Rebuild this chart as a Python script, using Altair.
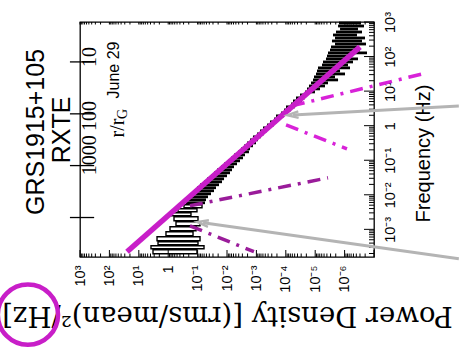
import altair as alt
import pandas as pd

# ---------------- data ----------------
# black PDS, narrow high-frequency bins: bin frequency (Hz), power upper / lower end
bin_freq = [935, 766, 628, 514, 421, 345, 282, 231, 190, 155,
            127, 104, 85.3, 69.8, 57.1, 46.9, 38.4, 31.4, 25.8, 21.1,
            17.3, 14.1, 11.6, 9.48, 7.76, 6.37, 5.21, 4.27, 3.50, 2.86,
            2.34, 1.92, 1.57, 1.29, 1.05, 0.865, 0.708, 0.579, 0.475, 0.389,
            0.318, 0.261, 0.214, 0.175, 0.143, 0.117, 0.0962, 0.0787, 0.0646, 0.0528,
            0.0433, 0.0354, 0.0290, 0.0238, 0.0195, 0.0160, 0.0131, 0.0107, 0.00875, 0.00718,
            0.00587]
bin_pow_hi = [1.55e-6, 1.67e-6, 1.43e-6, 1.96e-6, 2.48e-6, 2.12e-6, 2.69e-6, 2.12e-6, 2.90e-6, 3.14e-6,
              3.67e-6, 3.97e-6, 4.30e-6, 5.43e-6, 5.87e-6, 8.04e-6, 8.69e-6, 9.40e-6, 1.10e-5, 1.19e-5,
              1.39e-5, 1.63e-5, 1.90e-5, 2.22e-5, 3.29e-5, 4.50e-5, 5.69e-5, 6.65e-5, 9.84e-5, 1.15e-4,
              1.46e-4, 2.15e-4, 2.52e-4, 3.44e-4, 4.36e-4, 5.97e-4, 7.55e-4, 9.55e-4, 1.31e-3, 1.65e-3,
              2.09e-3, 2.64e-3, 3.34e-3, 4.23e-3, 5.78e-3, 7.31e-3, 9.25e-3, 1.26e-2, 1.60e-2, 2.19e-2,
              2.77e-2, 3.50e-2, 4.79e-2, 6.05e-2, 8.28e-2, 0.105, 0.132, 0.155, 0.196, 0.230,
              0.248]
bin_pow_lo = [2.77e-7, 2.19e-7, 3.50e-7, 2.56e-7, 3.78e-7, 2.02e-7, 2.56e-7, 1.87e-7, 3.78e-7, 2.99e-7,
              1.73e-7, 5.60e-7, 3.50e-7, 5.18e-7, 7.66e-7, 6.55e-7, 1.43e-6, 9.68e-7, 2.12e-6, 1.67e-6,
              3.67e-6, 4.64e-6, 6.87e-6, 1.02e-5, 1.90e-5, 2.22e-5, 2.81e-5, 4.16e-5, 4.86e-5, 6.65e-5,
              9.10e-5, 1.15e-4, 1.57e-4, 1.99e-4, 2.52e-4, 3.44e-4, 4.36e-4, 5.51e-4, 6.98e-4, 8.83e-4,
              1.03e-3, 1.31e-3, 1.65e-3, 1.79e-3, 2.44e-3, 2.86e-3, 3.61e-3, 4.57e-3, 5.78e-3, 6.76e-3,
              7.91e-3, 1.00e-2, 1.26e-2, 1.48e-2, 1.87e-2, 2.37e-2, 2.77e-2, 3.50e-2, 4.43e-2, 5.18e-2,
              5.60e-2]

# black PDS, wide low-frequency bins drawn as boxes
box_f_hi = [5.14e-3, 3.94e-3, 3.02e-3, 2.31e-3, 1.66e-3, 1.19e-3, 8.53e-4, 6.11e-4, 4.38e-4, 3.36e-4, 2.57e-4]
box_f_lo = [4.21e-3, 3.23e-3, 2.47e-3, 1.77e-3, 1.27e-3, 9.12e-4, 6.53e-4, 4.68e-4, 3.59e-4, 2.75e-4, 1.97e-4]
box_p_hi = [0.290, 0.464, 0.803, 0.635, 0.543, 0.869, 1.19, 2.40, 2.22, 3.85, 3.29]
box_p_lo = [0.0708, 0.105, 0.168, 0.0969, 0.0828, 0.113, 0.143, 0.0828, 0.0969, 0.0605, 0.105]

# power-law fit (solid magenta)
fit_pow = [25.1, 3.0e-7]
fit_freq = [2.24e-4, 190]

# high-frequency component (bright dash-dot), two segments
hf_seg = ["a", "a", "b", "b"]
hf_pow = [6.2e-5, 2.3e-9, 9.8e-5, 8.3e-7]
hf_freq = [3.73, 31.4, 1.05, 0.213]

# low-frequency component (dark dash-dot), two segments
lf_seg = ["a", "a", "b", "b"]
lf_pow = [0.182, 3.67e-6, 0.182, 1.21e-3]
lf_freq = [4.81e-3, 0.031, 1.27e-3, 2.25e-4]

# grey arrows (tail, tip)
arr_seg = ["a", "a", "b", "b"]
arr_pow = [1.3e-10, 5.7e-5, 1.3e-10, 0.0655]
arr_freq = [3.73, 2.05, 1.41e-4, 1.55e-3]
tip_pow = [5.7e-5, 0.0655]
tip_freq = [2.05, 1.55e-3]
tip_angle = [357, 8]

# r / r_G scale on the left edge
r_tick_freq = [70, 2.2, 0.07, 0.0022]
r_label_text = ["10", "100", "1000"]
r_label_freq = [97, 1.9, 0.14]

# axis ticks
x_label_values = [1e3, 1e2, 1e1, 1, 1e-1, 1e-2, 1e-3, 1e-4, 1e-5, 1e-6]
y_label_values = [1e-3, 1e-2, 1e-1, 1, 1e1, 1e2, 1e3]
x_major = [10.0 ** e for e in range(-7, 4)]
x_minor = [m * 10.0 ** e for e in range(-7, 3) for m in range(2, 10)]
y_major = [10.0 ** e for e in range(-3, 4)]
y_minor = [m * 10.0 ** e for e in range(-4, 3) for m in range(2, 10) if m * 10.0 ** e > 10 ** -3.8]

# ---------------- chart ----------------
W, H = 294, 235
MAG = "#c81ec8"
MAG2 = "#d822d8"
PURP = "#9a1c9a"
GREY = "#b4b4b4"

xs = alt.Scale(type="log", domain=[1e-7, 1e3], reverse=True, nice=False)
ys = alt.Scale(type="log", domain=[10 ** -3.8, 1e3], nice=False)

xax = alt.Axis(
    values=x_label_values,
    labelExpr="['10⁻⁶','10⁻⁵','10⁻⁴','10⁻³','10⁻²','10⁻¹','1','10¹','10²','10³'][round(log(datum.value)/LN10)+6]",
    labelAngle=270, labelAlign="right", labelBaseline="middle", labelPadding=8,
    labelFont="Liberation Sans", labelFontSize=14.5, labelColor="black", labelOverlap=False,
    labelBound=False, labelFlush=False,
    title="Power Density [(rms/mean)²/Hz]", titleAngle=180, titleFont="DejaVu Serif",
    titleFontSize=27.5, titleFontWeight="normal", titleColor="black",
    titleX=147, titleY=57, titleAlign="center", titleBaseline="middle",
)
yax = alt.Axis(
    orient="right", values=y_label_values,
    labelExpr="['10⁻³','10⁻²','10⁻¹','1','10¹','10²','10³'][round(log(datum.value)/LN10)+3]",
    labelAngle=270, labelAlign="center", labelBaseline="top", labelPadding=9,
    labelFont="Liberation Sans", labelFontSize=14.5, labelColor="black", labelOverlap=False,
    labelBound=False, labelFlush=False,
    title="Frequency (Hz)", titleAngle=270, titleFont="Liberation Sans", titleFontSize=20,
    titleFontWeight="normal", titleColor="black",
    titleX=49, titleY=131, titleAlign="center", titleBaseline="middle",
)


def X(f):
    return alt.X(f, type="quantitative", scale=xs, axis=xax)


def Y(f):
    return alt.Y(f, type="quantitative", scale=ys, axis=yax)


bins = pd.DataFrame({"f": bin_freq, "p1": bin_pow_hi, "p2": bin_pow_lo})
boxes = pd.DataFrame({"f1": box_f_lo, "f2": box_f_hi, "p1": box_p_hi, "p2": box_p_lo})
fit = pd.DataFrame({"p": fit_pow, "f": fit_freq})
hf = pd.DataFrame({"seg": hf_seg, "p": hf_pow, "f": hf_freq})
lf = pd.DataFrame({"seg": lf_seg, "p": lf_pow, "f": lf_freq})
arr = pd.DataFrame({"seg": arr_seg, "p": arr_pow, "f": arr_freq})
tips = pd.DataFrame({"p": tip_pow, "f": tip_freq, "a": tip_angle})
rt = pd.DataFrame({"f": r_tick_freq, "p1": [2200] * 4, "p2": [330] * 4})
rl = pd.DataFrame({"f": r_label_freq, "t": r_label_text, "p": [440] * 3})

layers = []

# axis ticks (inward)
layers.append(alt.Chart(pd.DataFrame({"v": x_major})).mark_rule(color="black", strokeWidth=1)
              .encode(x=X("v"), y=alt.value(H), y2=alt.value(H - 7)))
layers.append(alt.Chart(pd.DataFrame({"v": x_minor})).mark_rule(color="black", strokeWidth=1)
              .encode(x=X("v"), y=alt.value(H), y2=alt.value(H - 3.5)))
layers.append(alt.Chart(pd.DataFrame({"v": x_major + x_minor})).mark_rule(color="black", strokeWidth=1)
              .encode(x=X("v"), y=alt.value(0), y2=alt.value(2.5)))
layers.append(alt.Chart(pd.DataFrame({"v": y_major})).mark_rule(color="black", strokeWidth=1)
              .encode(y=Y("v"), x=alt.value(W), x2=alt.value(W - 10)))
layers.append(alt.Chart(pd.DataFrame({"v": y_minor})).mark_rule(color="black", strokeWidth=1)
              .encode(y=Y("v"), x=alt.value(W), x2=alt.value(W - 5)))

# PDS
layers.append(alt.Chart(bins).mark_rule(color="black", strokeWidth=2.8)
              .encode(x=X("p1"), x2="p2", y=Y("f")))
layers.append(alt.Chart(boxes).mark_rect(fillOpacity=0, stroke="black", strokeWidth=1.4)
              .encode(x=X("p1"), x2="p2", y=Y("f1"), y2="f2"))

# components
layers.append(alt.Chart(lf).mark_line(color=PURP, strokeWidth=3.5, strokeDash=[13, 7, 3, 7])
              .encode(x=X("p"), y=Y("f"), detail="seg"))
layers.append(alt.Chart(hf).mark_line(color=MAG2, strokeWidth=3.5, strokeDash=[13, 7, 3, 7])
              .encode(x=X("p"), y=Y("f"), detail="seg"))
layers.append(alt.Chart(fit).mark_line(color=MAG, strokeWidth=5.5)
              .encode(x=X("p"), y=Y("f")))

# arrows
layers.append(alt.Chart(arr).mark_line(color=GREY, strokeWidth=3)
              .encode(x=X("p"), y=Y("f"), detail="seg"))
layers.append(alt.Chart(tips).mark_point(shape="M 1 -0.6 L -1 0 L 1 0.6", filled=False,
                                          color=GREY, strokeWidth=2.5, size=120, opacity=1)
              .encode(x=X("p"), y=Y("f"), angle=alt.Angle("a:Q", scale=None)))

# r / r_G scale
layers.append(alt.Chart(rt).mark_rule(color="black", strokeWidth=1.3)
              .encode(x=X("p1"), x2="p2", y=Y("f")))
layers.append(alt.Chart(rl).mark_text(angle=270, align="center", baseline="middle",
                                       font="Liberation Serif", fontSize=20, color="black")
              .encode(x=X("p"), y=Y("f"), text="t:N"))

# circle around the unit
layers.append(alt.Chart(pd.DataFrame({"p": [5.9e4], "f": [3.4e-6]}))
              .mark_point(shape="circle", filled=False, color=MAG, strokeWidth=4.5, size=3630, opacity=1)
              .encode(x=X("p"), y=Y("f")))


def label(txt, x, y, size, font="Liberation Sans"):
    return alt.Chart(pd.DataFrame({"t": [txt]})).mark_text(
        angle=270, align="center", baseline="middle", font=font, fontSize=size, color="black"
    ).encode(text="t:N", x=alt.value(x), y=alt.value(y))


layers.append(label("GRS1915+105", -44, 110, 25))
layers.append(label("RXTE", -18, 108, 25))
layers.append(label("June 29", 34, 48, 16))
layers.append(label("r/r", 38, 106, 20, "Liberation Serif"))
layers.append(label("G", 43, 92, 14, "Liberation Serif"))

chart = alt.layer(*layers).properties(
    width=W, height=H,
    autosize=alt.AutoSizeParams(type="none"),
    padding={"left": 80, "top": 22, "right": 85, "bottom": 98},
).configure_view(stroke="black", strokeWidth=1.3).configure_axis(
    domain=False, grid=False, ticks=False
)

chart.save("out.html", embed_options={"renderer": "svg", "actions": False})
